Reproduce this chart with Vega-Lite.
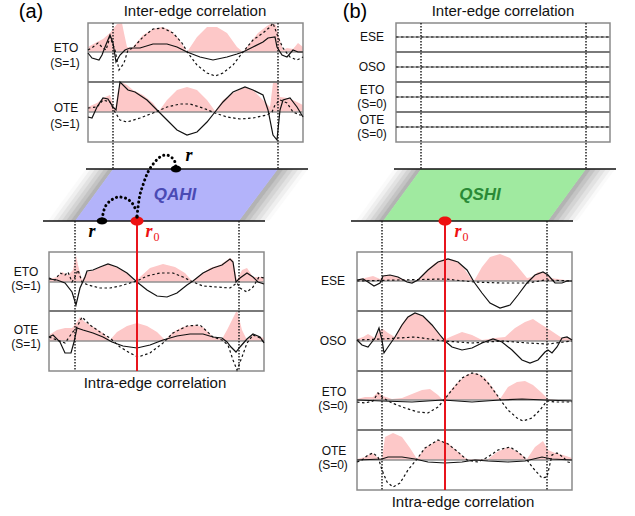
{
"$schema": "https://vega.github.io/schema/vega-lite/v6.json",
"width": 635, "height": 516, "padding": 0,
"autosize": {"type": "fit", "contains": "padding"},
"background": "white",
"config": {"view": {"stroke": null}},
"encoding": {
 "x": {"field": "x", "type": "quantitative", "scale": {"domain": [0, 635], "nice": false, "zero": false}, "axis": null},
 "y": {"field": "y", "type": "quantitative", "scale": {"domain": [0, 516], "reverse": true, "nice": false, "zero": false}, "axis": null}
},
"layer": [
 {"data": {"values": [
  {"g":"AL0","lv":0,"y":169,"x":86,"x2":91},{"g":"AL0","lv":0,"y":221,"x":48,"x2":53},
  {"g":"AL1","lv":1,"y":169,"x":90.5,"x2":95.5},{"g":"AL1","lv":1,"y":221,"x":52.5,"x2":57.5},
  {"g":"AL2","lv":2,"y":169,"x":95,"x2":100},{"g":"AL2","lv":2,"y":221,"x":57,"x2":62},
  {"g":"AL3","lv":3,"y":169,"x":99.5,"x2":104.5},{"g":"AL3","lv":3,"y":221,"x":61.5,"x2":66.5},
  {"g":"AL4","lv":4,"y":169,"x":104,"x2":109},{"g":"AL4","lv":4,"y":221,"x":66,"x2":71},
  {"g":"AL5","lv":5,"y":169,"x":108.5,"x2":113.5},{"g":"AL5","lv":5,"y":221,"x":70.5,"x2":75.5},
  {"g":"AR5","lv":0,"y":169,"x":303,"x2":308},{"g":"AR5","lv":0,"y":221,"x":264,"x2":269},
  {"g":"AR4","lv":1,"y":169,"x":298,"x2":303.5},{"g":"AR4","lv":1,"y":221,"x":259,"x2":264.5},
  {"g":"AR3","lv":2,"y":169,"x":293,"x2":298.5},{"g":"AR3","lv":2,"y":221,"x":254,"x2":259.5},
  {"g":"AR2","lv":3,"y":169,"x":288,"x2":293.5},{"g":"AR2","lv":3,"y":221,"x":249,"x2":254.5},
  {"g":"AR1","lv":4,"y":169,"x":283,"x2":288.5},{"g":"AR1","lv":4,"y":221,"x":244,"x2":249.5},
  {"g":"AR0","lv":5,"y":169,"x":277.5,"x2":283.5},{"g":"AR0","lv":5,"y":221,"x":238.5,"x2":244.5},
  {"g":"BL0","lv":0,"y":169,"x":394,"x2":399},{"g":"BL0","lv":0,"y":221,"x":356,"x2":361},
  {"g":"BL1","lv":1,"y":169,"x":398.5,"x2":403.5},{"g":"BL1","lv":1,"y":221,"x":360.5,"x2":365.5},
  {"g":"BL2","lv":2,"y":169,"x":403,"x2":408},{"g":"BL2","lv":2,"y":221,"x":365,"x2":370},
  {"g":"BL3","lv":3,"y":169,"x":407.5,"x2":412.5},{"g":"BL3","lv":3,"y":221,"x":369.5,"x2":374.5},
  {"g":"BL4","lv":4,"y":169,"x":412,"x2":417},{"g":"BL4","lv":4,"y":221,"x":374,"x2":379},
  {"g":"BL5","lv":5,"y":169,"x":416.5,"x2":421.5},{"g":"BL5","lv":5,"y":221,"x":378.5,"x2":383.5},
  {"g":"BR5","lv":0,"y":169,"x":610.5,"x2":615},{"g":"BR5","lv":0,"y":221,"x":572.5,"x2":577},
  {"g":"BR4","lv":1,"y":169,"x":605.5,"x2":611},{"g":"BR4","lv":1,"y":221,"x":567.5,"x2":573},
  {"g":"BR3","lv":2,"y":169,"x":600.5,"x2":606},{"g":"BR3","lv":2,"y":221,"x":562.5,"x2":568},
  {"g":"BR2","lv":3,"y":169,"x":595.5,"x2":601},{"g":"BR2","lv":3,"y":221,"x":557.5,"x2":563},
  {"g":"BR1","lv":4,"y":169,"x":590.5,"x2":596},{"g":"BR1","lv":4,"y":221,"x":552.5,"x2":558},
  {"g":"BR0","lv":5,"y":169,"x":585.5,"x2":591},{"g":"BR0","lv":5,"y":221,"x":547.5,"x2":553}
 ]},
  "mark": {"type": "area", "orient": "horizontal"},
  "encoding": {"x2": {"field": "x2"}, "detail": {"field": "g"},
   "fill": {"field": "lv", "type": "ordinal", "scale": {"domain": [0, 1, 2, 3, 4, 5], "range": ["#fafafa", "#efefef", "#e2e2e2", "#d4d4d4", "#c4c4c4", "#b3b3b3"]}, "legend": null}}},
 {"data": {"values": [{"y":169,"x":113,"x2":278},{"y":221,"x":75,"x2":239}]},
  "mark": {"type": "area", "orient": "horizontal", "fill": "#b3b3fa"},
  "encoding": {"x2": {"field": "x2"}}},
 {"data": {"values": [{"y":169,"x":421,"x2":586},{"y":221,"x":383,"x2":548}]},
  "mark": {"type": "area", "orient": "horizontal", "fill": "#a0eaa0"},
  "encoding": {"x2": {"field": "x2"}}},
 {"data": {"values": [
  {"s":"a1e","b":52,"x":88,"y":47},{"s":"a1e","b":52,"x":97,"y":42},{"s":"a1e","b":52,"x":103,"y":39},{"s":"a1e","b":52,"x":110,"y":33},{"s":"a1e","b":52,"x":117,"y":24},{"s":"a1e","b":52,"x":122,"y":23},{"s":"a1e","b":52,"x":124,"y":33},{"s":"a1e","b":52,"x":127,"y":47},{"s":"a1e","b":52,"x":132,"y":48},{"s":"a1e","b":52,"x":143,"y":35},{"s":"a1e","b":52,"x":153,"y":29},{"s":"a1e","b":52,"x":162,"y":27},{"s":"a1e","b":52,"x":170,"y":30},{"s":"a1e","b":52,"x":178,"y":38},{"s":"a1e","b":52,"x":187,"y":52},{"s":"a1e","b":52,"x":197,"y":37},{"s":"a1e","b":52,"x":207,"y":27},{"s":"a1e","b":52,"x":217,"y":27},{"s":"a1e","b":52,"x":227,"y":33},{"s":"a1e","b":52,"x":237,"y":47},{"s":"a1e","b":52,"x":243,"y":52},{"s":"a1e","b":52,"x":250,"y":43},{"s":"a1e","b":52,"x":258,"y":33},{"s":"a1e","b":52,"x":267,"y":26},{"s":"a1e","b":52,"x":272,"y":23},{"s":"a1e","b":52,"x":276,"y":25},{"s":"a1e","b":52,"x":279,"y":37},{"s":"a1e","b":52,"x":283,"y":50},{"s":"a1e","b":52,"x":287,"y":48},{"s":"a1e","b":52,"x":293,"y":49},{"s":"a1e","b":52,"x":298,"y":43},{"s":"a1e","b":52,"x":303,"y":47},
  {"s":"a1o","b":112,"x":88,"y":107},{"s":"a1o","b":112,"x":97,"y":103},{"s":"a1o","b":112,"x":103,"y":98},{"s":"a1o","b":112,"x":110,"y":95},{"s":"a1o","b":112,"x":115,"y":110},{"s":"a1o","b":112,"x":118,"y":90},{"s":"a1o","b":112,"x":121,"y":82},{"s":"a1o","b":112,"x":127,"y":85},{"s":"a1o","b":112,"x":133,"y":90},{"s":"a1o","b":112,"x":143,"y":95},{"s":"a1o","b":112,"x":153,"y":103},{"s":"a1o","b":112,"x":159,"y":111},{"s":"a1o","b":112,"x":167,"y":100},{"s":"a1o","b":112,"x":177,"y":90},{"s":"a1o","b":112,"x":187,"y":87},{"s":"a1o","b":112,"x":197,"y":90},{"s":"a1o","b":112,"x":207,"y":100},{"s":"a1o","b":112,"x":215,"y":111},{"s":"a1o","b":112,"x":223,"y":100},{"s":"a1o","b":112,"x":233,"y":93},{"s":"a1o","b":112,"x":245,"y":87},{"s":"a1o","b":112,"x":253,"y":90},{"s":"a1o","b":112,"x":263,"y":100},{"s":"a1o","b":112,"x":270,"y":107},{"s":"a1o","b":112,"x":273,"y":83},{"s":"a1o","b":112,"x":277,"y":83},{"s":"a1o","b":112,"x":280,"y":97},{"s":"a1o","b":112,"x":287,"y":98},{"s":"a1o","b":112,"x":293,"y":100},{"s":"a1o","b":112,"x":303,"y":105},
  {"s":"a2e","b":282,"x":49,"y":279},{"s":"a2e","b":282,"x":57,"y":277},{"s":"a2e","b":282,"x":62,"y":272},{"s":"a2e","b":282,"x":68,"y":275},{"s":"a2e","b":282,"x":73,"y":270},{"s":"a2e","b":282,"x":76,"y":255},{"s":"a2e","b":282,"x":78,"y":265},{"s":"a2e","b":282,"x":82,"y":280},{"s":"a2e","b":282,"x":87,"y":272},{"s":"a2e","b":282,"x":92,"y":271},{"s":"a2e","b":282,"x":100,"y":267},{"s":"a2e","b":282,"x":108,"y":264},{"s":"a2e","b":282,"x":117,"y":267},{"s":"a2e","b":282,"x":127,"y":273},{"s":"a2e","b":282,"x":135,"y":282},{"s":"a2e","b":282,"x":140,"y":277},{"s":"a2e","b":282,"x":150,"y":268},{"s":"a2e","b":282,"x":163,"y":264},{"s":"a2e","b":282,"x":175,"y":267},{"s":"a2e","b":282,"x":185,"y":273},{"s":"a2e","b":282,"x":192,"y":281},{"s":"a2e","b":282,"x":200,"y":275},{"s":"a2e","b":282,"x":210,"y":268},{"s":"a2e","b":282,"x":220,"y":265},{"s":"a2e","b":282,"x":230,"y":258},{"s":"a2e","b":282,"x":233,"y":260},{"s":"a2e","b":282,"x":237,"y":280},{"s":"a2e","b":282,"x":242,"y":270},{"s":"a2e","b":282,"x":247,"y":268},{"s":"a2e","b":282,"x":253,"y":277},{"s":"a2e","b":282,"x":264,"y":277},
  {"s":"a2o","b":341,"x":49,"y":335},{"s":"a2o","b":341,"x":57,"y":330},{"s":"a2o","b":341,"x":65,"y":328},{"s":"a2o","b":341,"x":72,"y":328},{"s":"a2o","b":341,"x":77,"y":322},{"s":"a2o","b":341,"x":80,"y":317},{"s":"a2o","b":341,"x":85,"y":322},{"s":"a2o","b":341,"x":95,"y":328},{"s":"a2o","b":341,"x":103,"y":333},{"s":"a2o","b":341,"x":110,"y":340},{"s":"a2o","b":341,"x":117,"y":332},{"s":"a2o","b":341,"x":127,"y":326},{"s":"a2o","b":341,"x":137,"y":323},{"s":"a2o","b":341,"x":147,"y":326},{"s":"a2o","b":341,"x":157,"y":332},{"s":"a2o","b":341,"x":165,"y":340},{"s":"a2o","b":341,"x":173,"y":332},{"s":"a2o","b":341,"x":183,"y":327},{"s":"a2o","b":341,"x":193,"y":325},{"s":"a2o","b":341,"x":203,"y":327},{"s":"a2o","b":341,"x":213,"y":337},{"s":"a2o","b":341,"x":222,"y":339},{"s":"a2o","b":341,"x":227,"y":330},{"s":"a2o","b":341,"x":233,"y":318},{"s":"a2o","b":341,"x":237,"y":310},{"s":"a2o","b":341,"x":242,"y":330},{"s":"a2o","b":341,"x":247,"y":340},{"s":"a2o","b":341,"x":253,"y":335},{"s":"a2o","b":341,"x":264,"y":338},
  {"s":"b2s","b":281,"x":357,"y":280},{"s":"b2s","b":281,"x":365,"y":278},{"s":"b2s","b":281,"x":373,"y":276},{"s":"b2s","b":281,"x":380,"y":279},{"s":"b2s","b":281,"x":385,"y":275},{"s":"b2s","b":281,"x":395,"y":276},{"s":"b2s","b":281,"x":403,"y":279},{"s":"b2s","b":281,"x":412,"y":282},{"s":"b2s","b":281,"x":418,"y":279},{"s":"b2s","b":281,"x":425,"y":272},{"s":"b2s","b":281,"x":435,"y":263},{"s":"b2s","b":281,"x":445,"y":259},{"s":"b2s","b":281,"x":455,"y":260},{"s":"b2s","b":281,"x":463,"y":267},{"s":"b2s","b":281,"x":470,"y":277},{"s":"b2s","b":281,"x":474,"y":281},{"s":"b2s","b":281,"x":482,"y":267},{"s":"b2s","b":281,"x":490,"y":257},{"s":"b2s","b":281,"x":500,"y":254},{"s":"b2s","b":281,"x":510,"y":258},{"s":"b2s","b":281,"x":518,"y":267},{"s":"b2s","b":281,"x":527,"y":278},{"s":"b2s","b":281,"x":532,"y":277},{"s":"b2s","b":281,"x":538,"y":272},{"s":"b2s","b":281,"x":545,"y":273},{"s":"b2s","b":281,"x":550,"y":278},{"s":"b2s","b":281,"x":558,"y":279},{"s":"b2s","b":281,"x":572,"y":281},
  {"s":"b2o","b":341,"x":357,"y":339},{"s":"b2o","b":341,"x":363,"y":337},{"s":"b2o","b":341,"x":368,"y":334},{"s":"b2o","b":341,"x":375,"y":338},{"s":"b2o","b":341,"x":380,"y":330},{"s":"b2o","b":341,"x":383,"y":329},{"s":"b2o","b":341,"x":388,"y":333},{"s":"b2o","b":341,"x":395,"y":337},{"s":"b2o","b":341,"x":400,"y":327},{"s":"b2o","b":341,"x":407,"y":317},{"s":"b2o","b":341,"x":415,"y":313},{"s":"b2o","b":341,"x":423,"y":316},{"s":"b2o","b":341,"x":432,"y":325},{"s":"b2o","b":341,"x":440,"y":335},{"s":"b2o","b":341,"x":444,"y":340},{"s":"b2o","b":341,"x":450,"y":337},{"s":"b2o","b":341,"x":462,"y":332},{"s":"b2o","b":341,"x":472,"y":335},{"s":"b2o","b":341,"x":482,"y":340},{"s":"b2o","b":341,"x":495,"y":338},{"s":"b2o","b":341,"x":505,"y":337},{"s":"b2o","b":341,"x":515,"y":328},{"s":"b2o","b":341,"x":525,"y":322},{"s":"b2o","b":341,"x":533,"y":319},{"s":"b2o","b":341,"x":542,"y":325},{"s":"b2o","b":341,"x":547,"y":328},{"s":"b2o","b":341,"x":553,"y":332},{"s":"b2o","b":341,"x":562,"y":338},{"s":"b2o","b":341,"x":567,"y":337},{"s":"b2o","b":341,"x":572,"y":339},
  {"s":"b2e","b":400,"x":357,"y":399},{"s":"b2e","b":400,"x":365,"y":397},{"s":"b2e","b":400,"x":373,"y":397},{"s":"b2e","b":400,"x":378,"y":392},{"s":"b2e","b":400,"x":383,"y":396},{"s":"b2e","b":400,"x":392,"y":399},{"s":"b2e","b":400,"x":402,"y":398},{"s":"b2e","b":400,"x":412,"y":394},{"s":"b2e","b":400,"x":422,"y":390},{"s":"b2e","b":400,"x":430,"y":389},{"s":"b2e","b":400,"x":438,"y":395},{"s":"b2e","b":400,"x":443,"y":400},{"s":"b2e","b":400,"x":448,"y":393},{"s":"b2e","b":400,"x":458,"y":382},{"s":"b2e","b":400,"x":468,"y":374},{"s":"b2e","b":400,"x":477,"y":373},{"s":"b2e","b":400,"x":485,"y":378},{"s":"b2e","b":400,"x":493,"y":388},{"s":"b2e","b":400,"x":500,"y":399},{"s":"b2e","b":400,"x":508,"y":387},{"s":"b2e","b":400,"x":517,"y":382},{"s":"b2e","b":400,"x":525,"y":381},{"s":"b2e","b":400,"x":533,"y":385},{"s":"b2e","b":400,"x":542,"y":393},{"s":"b2e","b":400,"x":548,"y":399},{"s":"b2e","b":400,"x":558,"y":400},{"s":"b2e","b":400,"x":572,"y":400},
  {"s":"b2t","b":460,"x":357,"y":459},{"s":"b2t","b":460,"x":365,"y":457},{"s":"b2t","b":460,"x":372,"y":453},{"s":"b2t","b":460,"x":377,"y":457},{"s":"b2t","b":460,"x":382,"y":459},{"s":"b2t","b":460,"x":385,"y":437},{"s":"b2t","b":460,"x":393,"y":433},{"s":"b2t","b":460,"x":402,"y":437},{"s":"b2t","b":460,"x":410,"y":448},{"s":"b2t","b":460,"x":417,"y":459},{"s":"b2t","b":460,"x":425,"y":448},{"s":"b2t","b":460,"x":438,"y":440},{"s":"b2t","b":460,"x":448,"y":443},{"s":"b2t","b":460,"x":458,"y":452},{"s":"b2t","b":460,"x":467,"y":459},{"s":"b2t","b":460,"x":488,"y":459},{"s":"b2t","b":460,"x":497,"y":452},{"s":"b2t","b":460,"x":508,"y":447},{"s":"b2t","b":460,"x":518,"y":452},{"s":"b2t","b":460,"x":527,"y":459},{"s":"b2t","b":460,"x":535,"y":447},{"s":"b2t","b":460,"x":543,"y":441},{"s":"b2t","b":460,"x":548,"y":450},{"s":"b2t","b":460,"x":555,"y":453},{"s":"b2t","b":460,"x":563,"y":455},{"s":"b2t","b":460,"x":572,"y":458}
 ]},
  "mark": {"type": "area", "fill": "#fdc8c8"},
  "encoding": {"y2": {"field": "b"}, "detail": {"field": "s"}}},
 {"data": {"values": [
  {"x":88,"y":23,"x2":303,"y2":142},{"x":49,"y":252,"x2":264,"y2":371},{"x":396,"y":23,"x2":610,"y2":142},{"x":357,"y":252,"x2":572,"y2":490}
 ]},
  "mark": {"type": "rect", "fillOpacity": 0, "stroke": "#8a8a8a", "strokeWidth": 1.5},
  "encoding": {"x2": {"field": "x2"}, "y2": {"field": "y2"}}},
 {"data": {"values": [
  {"x":88,"x2":303,"y":82},{"x":49,"x2":264,"y":311},
  {"x":396,"x2":610,"y":52},{"x":396,"x2":610,"y":82},{"x":396,"x2":610,"y":112},
  {"x":357,"x2":572,"y":311},{"x":357,"x2":572,"y":371},{"x":357,"x2":572,"y":430}
 ]},
  "mark": {"type": "rule", "color": "#7a7a7a", "strokeWidth": 1.8},
  "encoding": {"x2": {"field": "x2"}}},
 {"data": {"values": [
  {"x":88,"x2":303,"y":52},{"x":88,"x2":303,"y":112},{"x":49,"x2":264,"y":282},{"x":49,"x2":264,"y":341},
  {"x":396,"x2":610,"y":37},{"x":396,"x2":610,"y":67},{"x":396,"x2":610,"y":97},{"x":396,"x2":610,"y":127},
  {"x":357,"x2":572,"y":281},{"x":357,"x2":572,"y":341},{"x":357,"x2":572,"y":400},{"x":357,"x2":572,"y":460}
 ]},
  "mark": {"type": "rule", "color": "#909090", "strokeWidth": 1.5},
  "encoding": {"x2": {"field": "x2"}}},
 {"data": {"values": [
  {"x":86,"x2":308,"y":169},{"x":43,"x2":265,"y":221},{"x":394,"x2":616,"y":169},{"x":351,"x2":573,"y":221}
 ]},
  "mark": {"type": "rule", "color": "#111111", "strokeWidth": 1.5},
  "encoding": {"x2": {"field": "x2"}}},
 {"data": {"values": [
  {"x":113,"y":23,"y2":169},{"x":278,"y":23,"y2":169},{"x":75,"y":221,"y2":371},{"x":239,"y":221,"y2":371},
  {"x":421,"y":23,"y2":169},{"x":586,"y":23,"y2":169},{"x":382,"y":221,"y2":490},{"x":547,"y":221,"y2":490}
 ]},
  "mark": {"type": "rule", "color": "#222222", "strokeWidth": 1.5, "strokeDash": [1.5, 1.5]},
  "encoding": {"y2": {"field": "y2"}}},
 {"data": {"values": [
  {"s":"b1s","x":396,"y":37},{"s":"b1s","x":610,"y":37},{"s":"b1o","x":396,"y":67},{"s":"b1o","x":610,"y":67},
  {"s":"b1e","x":396,"y":97},{"s":"b1e","x":610,"y":97},{"s":"b1t","x":396,"y":127},{"s":"b1t","x":610,"y":127},
  {"s":"a1e","x":88,"y":50},{"s":"a1e","x":93,"y":47},{"s":"a1e","x":98,"y":43},{"s":"a1e","x":102,"y":47},{"s":"a1e","x":106,"y":50},{"s":"a1e","x":110,"y":37},{"s":"a1e","x":115,"y":50},{"s":"a1e","x":119,"y":70},{"s":"a1e","x":124,"y":63},{"s":"a1e","x":128,"y":50},{"s":"a1e","x":133,"y":48},{"s":"a1e","x":143,"y":37},{"s":"a1e","x":153,"y":29},{"s":"a1e","x":163,"y":28},{"s":"a1e","x":173,"y":33},{"s":"a1e","x":182,"y":43},{"s":"a1e","x":188,"y":53},{"s":"a1e","x":197,"y":65},{"s":"a1e","x":207,"y":73},{"s":"a1e","x":215,"y":76},{"s":"a1e","x":223,"y":73},{"s":"a1e","x":233,"y":65},{"s":"a1e","x":243,"y":52},{"s":"a1e","x":253,"y":40},{"s":"a1e","x":263,"y":33},{"s":"a1e","x":270,"y":27},{"s":"a1e","x":273,"y":23},{"s":"a1e","x":278,"y":37},{"s":"a1e","x":283,"y":48},{"s":"a1e","x":290,"y":57},{"s":"a1e","x":297,"y":60},{"s":"a1e","x":303,"y":57},
  {"s":"a1o","x":88,"y":108},{"s":"a1o","x":97,"y":107},{"s":"a1o","x":103,"y":100},{"s":"a1o","x":110,"y":102},{"s":"a1o","x":115,"y":112},{"s":"a1o","x":120,"y":120},{"s":"a1o","x":127,"y":122},{"s":"a1o","x":140,"y":118},{"s":"a1o","x":153,"y":113},{"s":"a1o","x":167,"y":107},{"s":"a1o","x":180,"y":104},{"s":"a1o","x":190,"y":104},{"s":"a1o","x":203,"y":108},{"s":"a1o","x":215,"y":113},{"s":"a1o","x":227,"y":117},{"s":"a1o","x":240,"y":119},{"s":"a1o","x":253,"y":118},{"s":"a1o","x":267,"y":115},{"s":"a1o","x":272,"y":112},{"s":"a1o","x":275,"y":105},{"s":"a1o","x":280,"y":100},{"s":"a1o","x":287,"y":103},{"s":"a1o","x":293,"y":112},{"s":"a1o","x":300,"y":115},{"s":"a1o","x":303,"y":115},
  {"s":"a2e","x":49,"y":278},{"s":"a2e","x":55,"y":280},{"s":"a2e","x":60,"y":273},{"s":"a2e","x":65,"y":275},{"s":"a2e","x":68,"y":272},{"s":"a2e","x":72,"y":282},{"s":"a2e","x":75,"y":277},{"s":"a2e","x":78,"y":270},{"s":"a2e","x":82,"y":282},{"s":"a2e","x":88,"y":285},{"s":"a2e","x":100,"y":288},{"s":"a2e","x":110,"y":288},{"s":"a2e","x":120,"y":286},{"s":"a2e","x":130,"y":283},{"s":"a2e","x":137,"y":281},{"s":"a2e","x":147,"y":276},{"s":"a2e","x":160,"y":273},{"s":"a2e","x":173,"y":273},{"s":"a2e","x":183,"y":277},{"s":"a2e","x":193,"y":282},{"s":"a2e","x":203,"y":286},{"s":"a2e","x":217,"y":287},{"s":"a2e","x":230,"y":288},{"s":"a2e","x":237,"y":283},{"s":"a2e","x":240,"y":288},{"s":"a2e","x":247,"y":292},{"s":"a2e","x":253,"y":287},{"s":"a2e","x":259,"y":277},{"s":"a2e","x":264,"y":278},
  {"s":"a2o","x":49,"y":337},{"s":"a2o","x":57,"y":340},{"s":"a2o","x":65,"y":343},{"s":"a2o","x":72,"y":333},{"s":"a2o","x":77,"y":327},{"s":"a2o","x":82,"y":317},{"s":"a2o","x":90,"y":325},{"s":"a2o","x":100,"y":332},{"s":"a2o","x":110,"y":338},{"s":"a2o","x":120,"y":347},{"s":"a2o","x":130,"y":353},{"s":"a2o","x":138,"y":357},{"s":"a2o","x":150,"y":353},{"s":"a2o","x":163,"y":343},{"s":"a2o","x":173,"y":333},{"s":"a2o","x":187,"y":326},{"s":"a2o","x":200,"y":325},{"s":"a2o","x":213,"y":337},{"s":"a2o","x":222,"y":340},{"s":"a2o","x":228,"y":345},{"s":"a2o","x":233,"y":360},{"s":"a2o","x":237,"y":370},{"s":"a2o","x":242,"y":357},{"s":"a2o","x":247,"y":343},{"s":"a2o","x":253,"y":335},{"s":"a2o","x":260,"y":338},{"s":"a2o","x":264,"y":342},
  {"s":"b2s","x":357,"y":281},{"s":"b2s","x":398,"y":280},{"s":"b2s","x":445,"y":279},{"s":"b2s","x":474,"y":282},{"s":"b2s","x":502,"y":283},{"s":"b2s","x":528,"y":283},{"s":"b2s","x":545,"y":280},{"s":"b2s","x":572,"y":281},
  {"s":"b2o","x":357,"y":340},{"s":"b2o","x":382,"y":339},{"s":"b2o","x":415,"y":337},{"s":"b2o","x":444,"y":341},{"s":"b2o","x":472,"y":343},{"s":"b2o","x":502,"y":341},{"s":"b2o","x":528,"y":343},{"s":"b2o","x":548,"y":344},{"s":"b2o","x":572,"y":341},
  {"s":"b2e","x":357,"y":402},{"s":"b2e","x":365,"y":403},{"s":"b2e","x":373,"y":401},{"s":"b2e","x":378,"y":393},{"s":"b2e","x":383,"y":398},{"s":"b2e","x":392,"y":403},{"s":"b2e","x":405,"y":408},{"s":"b2e","x":418,"y":412},{"s":"b2e","x":428,"y":413},{"s":"b2e","x":438,"y":407},{"s":"b2e","x":444,"y":400},{"s":"b2e","x":452,"y":390},{"s":"b2e","x":462,"y":378},{"s":"b2e","x":472,"y":373},{"s":"b2e","x":480,"y":375},{"s":"b2e","x":488,"y":383},{"s":"b2e","x":497,"y":395},{"s":"b2e","x":502,"y":402},{"s":"b2e","x":508,"y":410},{"s":"b2e","x":517,"y":418},{"s":"b2e","x":523,"y":421},{"s":"b2e","x":532,"y":418},{"s":"b2e","x":540,"y":410},{"s":"b2e","x":547,"y":401},{"s":"b2e","x":555,"y":402},{"s":"b2e","x":572,"y":402},
  {"s":"b2t","x":357,"y":462},{"s":"b2t","x":362,"y":460},{"s":"b2t","x":368,"y":455},{"s":"b2t","x":373,"y":453},{"s":"b2t","x":378,"y":457},{"s":"b2t","x":382,"y":470},{"s":"b2t","x":387,"y":482},{"s":"b2t","x":393,"y":487},{"s":"b2t","x":400,"y":483},{"s":"b2t","x":408,"y":470},{"s":"b2t","x":417,"y":459},{"s":"b2t","x":425,"y":448},{"s":"b2t","x":438,"y":440},{"s":"b2t","x":448,"y":444},{"s":"b2t","x":458,"y":452},{"s":"b2t","x":467,"y":460},{"s":"b2t","x":478,"y":462},{"s":"b2t","x":488,"y":457},{"s":"b2t","x":498,"y":450},{"s":"b2t","x":510,"y":447},{"s":"b2t","x":518,"y":452},{"s":"b2t","x":527,"y":460},{"s":"b2t","x":533,"y":468},{"s":"b2t","x":542,"y":478},{"s":"b2t","x":547,"y":477},{"s":"b2t","x":552,"y":455},{"s":"b2t","x":557,"y":453},{"s":"b2t","x":563,"y":457},{"s":"b2t","x":568,"y":462},{"s":"b2t","x":572,"y":463}
 ]},
  "mark": {"type": "line", "color": "#111111", "strokeWidth": 1.2, "strokeDash": [2.5, 2.5]},
  "encoding": {"detail": {"field": "s"}}},
 {"data": {"values": [
  {"s":"a1e","x":88,"y":53},{"s":"a1e","x":92,"y":58},{"s":"a1e","x":99,"y":60},{"s":"a1e","x":102,"y":55},{"s":"a1e","x":105,"y":47},{"s":"a1e","x":110,"y":35},{"s":"a1e","x":113,"y":43},{"s":"a1e","x":116,"y":62},{"s":"a1e","x":120,"y":55},{"s":"a1e","x":125,"y":50},{"s":"a1e","x":130,"y":48},{"s":"a1e","x":140,"y":48},{"s":"a1e","x":153,"y":44},{"s":"a1e","x":167,"y":44},{"s":"a1e","x":177,"y":47},{"s":"a1e","x":187,"y":52},{"s":"a1e","x":200,"y":57},{"s":"a1e","x":213,"y":60},{"s":"a1e","x":227,"y":57},{"s":"a1e","x":237,"y":54},{"s":"a1e","x":243,"y":52},{"s":"a1e","x":253,"y":47},{"s":"a1e","x":263,"y":42},{"s":"a1e","x":268,"y":38},{"s":"a1e","x":275,"y":37},{"s":"a1e","x":277,"y":47},{"s":"a1e","x":282,"y":55},{"s":"a1e","x":287,"y":57},{"s":"a1e","x":293,"y":50},{"s":"a1e","x":298,"y":52},{"s":"a1e","x":303,"y":52},
  {"s":"a1o","x":88,"y":117},{"s":"a1o","x":92,"y":118},{"s":"a1o","x":97,"y":107},{"s":"a1o","x":103,"y":98},{"s":"a1o","x":108,"y":99},{"s":"a1o","x":113,"y":107},{"s":"a1o","x":116,"y":110},{"s":"a1o","x":120,"y":82},{"s":"a1o","x":128,"y":90},{"s":"a1o","x":135,"y":92},{"s":"a1o","x":147,"y":100},{"s":"a1o","x":157,"y":110},{"s":"a1o","x":167,"y":120},{"s":"a1o","x":177,"y":130},{"s":"a1o","x":187,"y":135},{"s":"a1o","x":197,"y":132},{"s":"a1o","x":207,"y":122},{"s":"a1o","x":215,"y":112},{"s":"a1o","x":223,"y":102},{"s":"a1o","x":233,"y":92},{"s":"a1o","x":245,"y":87},{"s":"a1o","x":253,"y":90},{"s":"a1o","x":263,"y":95},{"s":"a1o","x":268,"y":110},{"s":"a1o","x":273,"y":135},{"s":"a1o","x":277,"y":140},{"s":"a1o","x":280,"y":110},{"s":"a1o","x":283,"y":100},{"s":"a1o","x":290,"y":98},{"s":"a1o","x":297,"y":107},{"s":"a1o","x":303,"y":117},
  {"s":"a2e","x":49,"y":279},{"s":"a2e","x":57,"y":280},{"s":"a2e","x":65,"y":283},{"s":"a2e","x":72,"y":292},{"s":"a2e","x":76,"y":305},{"s":"a2e","x":80,"y":288},{"s":"a2e","x":85,"y":277},{"s":"a2e","x":87,"y":271},{"s":"a2e","x":93,"y":270},{"s":"a2e","x":100,"y":267},{"s":"a2e","x":108,"y":264},{"s":"a2e","x":117,"y":267},{"s":"a2e","x":127,"y":273},{"s":"a2e","x":137,"y":282},{"s":"a2e","x":147,"y":290},{"s":"a2e","x":157,"y":296},{"s":"a2e","x":167,"y":297},{"s":"a2e","x":177,"y":293},{"s":"a2e","x":187,"y":285},{"s":"a2e","x":193,"y":281},{"s":"a2e","x":203,"y":273},{"s":"a2e","x":213,"y":268},{"s":"a2e","x":222,"y":265},{"s":"a2e","x":230,"y":259},{"s":"a2e","x":233,"y":262},{"s":"a2e","x":236,"y":282},{"s":"a2e","x":240,"y":278},{"s":"a2e","x":247,"y":273},{"s":"a2e","x":253,"y":277},{"s":"a2e","x":258,"y":282},{"s":"a2e","x":264,"y":284},
  {"s":"a2o","x":49,"y":337},{"s":"a2o","x":53,"y":335},{"s":"a2o","x":60,"y":342},{"s":"a2o","x":65,"y":353},{"s":"a2o","x":71,"y":353},{"s":"a2o","x":74,"y":342},{"s":"a2o","x":77,"y":328},{"s":"a2o","x":83,"y":330},{"s":"a2o","x":93,"y":333},{"s":"a2o","x":103,"y":337},{"s":"a2o","x":112,"y":342},{"s":"a2o","x":123,"y":346},{"s":"a2o","x":137,"y":348},{"s":"a2o","x":150,"y":345},{"s":"a2o","x":163,"y":340},{"s":"a2o","x":177,"y":336},{"s":"a2o","x":190,"y":334},{"s":"a2o","x":203,"y":334},{"s":"a2o","x":213,"y":337},{"s":"a2o","x":222,"y":338},{"s":"a2o","x":227,"y":342},{"s":"a2o","x":231,"y":347},{"s":"a2o","x":236,"y":352},{"s":"a2o","x":240,"y":347},{"s":"a2o","x":247,"y":339},{"s":"a2o","x":253,"y":334},{"s":"a2o","x":260,"y":337},{"s":"a2o","x":264,"y":343},
  {"s":"b2s","x":357,"y":280},{"s":"b2s","x":363,"y":279},{"s":"b2s","x":368,"y":282},{"s":"b2s","x":374,"y":286},{"s":"b2s","x":380,"y":283},{"s":"b2s","x":383,"y":276},{"s":"b2s","x":390,"y":275},{"s":"b2s","x":398,"y":277},{"s":"b2s","x":407,"y":282},{"s":"b2s","x":412,"y":283},{"s":"b2s","x":418,"y":280},{"s":"b2s","x":428,"y":270},{"s":"b2s","x":438,"y":262},{"s":"b2s","x":448,"y":259},{"s":"b2s","x":458,"y":262},{"s":"b2s","x":467,"y":270},{"s":"b2s","x":474,"y":282},{"s":"b2s","x":482,"y":293},{"s":"b2s","x":490,"y":303},{"s":"b2s","x":500,"y":308},{"s":"b2s","x":510,"y":305},{"s":"b2s","x":518,"y":295},{"s":"b2s","x":527,"y":283},{"s":"b2s","x":535,"y":275},{"s":"b2s","x":543,"y":272},{"s":"b2s","x":548,"y":275},{"s":"b2s","x":555,"y":283},{"s":"b2s","x":562,"y":283},{"s":"b2s","x":567,"y":281},{"s":"b2s","x":572,"y":281},
  {"s":"b2o","x":357,"y":340},{"s":"b2o","x":362,"y":345},{"s":"b2o","x":368,"y":347},{"s":"b2o","x":375,"y":338},{"s":"b2o","x":379,"y":328},{"s":"b2o","x":382,"y":340},{"s":"b2o","x":384,"y":353},{"s":"b2o","x":388,"y":347},{"s":"b2o","x":395,"y":337},{"s":"b2o","x":402,"y":325},{"s":"b2o","x":408,"y":317},{"s":"b2o","x":415,"y":313},{"s":"b2o","x":423,"y":316},{"s":"b2o","x":432,"y":325},{"s":"b2o","x":440,"y":335},{"s":"b2o","x":445,"y":341},{"s":"b2o","x":452,"y":347},{"s":"b2o","x":462,"y":350},{"s":"b2o","x":472,"y":348},{"s":"b2o","x":482,"y":343},{"s":"b2o","x":493,"y":339},{"s":"b2o","x":502,"y":342},{"s":"b2o","x":512,"y":350},{"s":"b2o","x":522,"y":360},{"s":"b2o","x":530,"y":363},{"s":"b2o","x":538,"y":360},{"s":"b2o","x":545,"y":352},{"s":"b2o","x":548,"y":350},{"s":"b2o","x":552,"y":353},{"s":"b2o","x":557,"y":347},{"s":"b2o","x":562,"y":338},{"s":"b2o","x":567,"y":337},{"s":"b2o","x":572,"y":340},
  {"s":"b2e","x":357,"y":400},{"s":"b2e","x":382,"y":401},{"s":"b2e","x":412,"y":402},{"s":"b2e","x":443,"y":400},{"s":"b2e","x":472,"y":402},{"s":"b2e","x":500,"y":400},{"s":"b2e","x":522,"y":399},{"s":"b2e","x":545,"y":400},{"s":"b2e","x":572,"y":401},
  {"s":"b2t","x":357,"y":460},{"s":"b2t","x":382,"y":459},{"s":"b2t","x":388,"y":457},{"s":"b2t","x":402,"y":457},{"s":"b2t","x":415,"y":459},{"s":"b2t","x":428,"y":462},{"s":"b2t","x":445,"y":463},{"s":"b2t","x":462,"y":462},{"s":"b2t","x":475,"y":460},{"s":"b2t","x":488,"y":461},{"s":"b2t","x":508,"y":462},{"s":"b2t","x":525,"y":461},{"s":"b2t","x":542,"y":457},{"s":"b2t","x":552,"y":459},{"s":"b2t","x":572,"y":460}
 ]},
  "mark": {"type": "line", "color": "#111111", "strokeWidth": 1.2},
  "encoding": {"detail": {"field": "s"}}},
 {"data": {"values": [{"x":137,"y":221,"y2":371},{"x":445,"y":221,"y2":490}]},
  "mark": {"type": "rule", "color": "#e8141c", "strokeWidth": 2},
  "encoding": {"y2": {"field": "y2"}}},
 {"data": {"values": [
  {"s":"big","x":137,"y":216},{"s":"big","x":139,"y":200},{"s":"big","x":143,"y":185},{"s":"big","x":148,"y":172},{"s":"big","x":154,"y":163},{"s":"big","x":160,"y":157},{"s":"big","x":166,"y":155},{"s":"big","x":171,"y":157},{"s":"big","x":175,"y":162},{"s":"big","x":176,"y":168},
  {"s":"small","x":102,"y":219},{"s":"small","x":104,"y":210},{"s":"small","x":108,"y":203},{"s":"small","x":113,"y":199},{"s":"small","x":119,"y":197},{"s":"small","x":125,"y":198},{"s":"small","x":130,"y":201},{"s":"small","x":134,"y":206},{"s":"small","x":136.5,"y":212}
 ]},
  "mark": {"type": "line", "color": "#000000", "strokeWidth": 3, "strokeDash": [0.1, 4.5], "strokeCap": "round", "interpolate": "monotone"},
  "encoding": {"detail": {"field": "s"}}},
 {"data": {"values": [{"x":137,"y":221},{"x":445,"y":221}]},
  "mark": {"type": "point", "filled": true, "opacity": 1, "color": "#ee1111", "size": 169, "shape": "M-1,0A1,0.7,0,1,0,1,0A1,0.7,0,1,0,-1,0Z"}},
 {"data": {"values": [{"x":102,"y":221},{"x":176,"y":169}]},
  "mark": {"type": "point", "filled": true, "opacity": 1, "color": "#000000", "size": 110, "shape": "M-1,0A1,0.65,0,1,0,1,0A1,0.65,0,1,0,-1,0Z"}},
 {"data": {"values": [{"x":137,"y":217}]},
  "mark": {"type": "point", "filled": true, "opacity": 1, "color": "#000000", "size": 12, "shape": "circle"}},
 {"data": {"values": [{"x":31,"y":12,"t":"(a)"},{"x":355,"y":12,"t":"(b)"}]},
  "mark": {"type": "text", "font": "Liberation Sans", "fontSize": 20, "align": "center", "baseline": "middle", "color": "#000000"},
  "encoding": {"text": {"field": "t"}}},
 {"data": {"values": [
  {"x":195,"y":11,"t":"Inter-edge correlation"},{"x":503,"y":11,"t":"Inter-edge correlation"},
  {"x":155,"y":383,"t":"Intra-edge correlation"},{"x":463,"y":502,"t":"Intra-edge correlation"}
 ]},
  "mark": {"type": "text", "font": "Liberation Sans", "fontSize": 15, "align": "center", "baseline": "middle", "color": "#111111"},
  "encoding": {"text": {"field": "t"}}},
 {"data": {"values": [
  {"x":66,"y":48,"t":"ETO"},{"x":65,"y":63,"t":"(S=1)"},{"x":66,"y":108,"t":"OTE"},{"x":65,"y":124,"t":"(S=1)"},
  {"x":26,"y":272,"t":"ETO"},{"x":26,"y":286,"t":"(S=1)"},{"x":26,"y":330,"t":"OTE"},{"x":26,"y":344,"t":"(S=1)"},
  {"x":372,"y":37,"t":"ESE"},{"x":372,"y":67,"t":"OSO"},{"x":372,"y":90,"t":"ETO"},{"x":372,"y":104,"t":"(S=0)"},{"x":372,"y":120,"t":"OTE"},{"x":372,"y":134,"t":"(S=0)"},
  {"x":333,"y":281,"t":"ESE"},{"x":333,"y":341,"t":"OSO"},{"x":334,"y":392,"t":"ETO"},{"x":333,"y":406,"t":"(S=0)"},{"x":334,"y":451,"t":"OTE"},{"x":333,"y":465,"t":"(S=0)"}
 ]},
  "mark": {"type": "text", "font": "Liberation Sans", "fontSize": 12, "align": "center", "baseline": "middle", "color": "#111111"},
  "encoding": {"text": {"field": "t"}}},
 {"data": {"values": [{"x":175,"y":195,"t":"QAHI"}]},
  "mark": {"type": "text", "font": "Liberation Sans", "fontSize": 17, "fontStyle": "italic", "fontWeight": "bold", "align": "center", "baseline": "middle", "color": "#4a4ab4"},
  "encoding": {"text": {"field": "t"}}},
 {"data": {"values": [{"x":480,"y":195,"t":"QSHI"}]},
  "mark": {"type": "text", "font": "Liberation Sans", "fontSize": 17, "fontStyle": "italic", "fontWeight": "bold", "align": "center", "baseline": "middle", "color": "#2a8a36"},
  "encoding": {"text": {"field": "t"}}},
 {"data": {"values": [{"x":92,"y":232,"t":"r"},{"x":189,"y":156,"t":"r"}]},
  "mark": {"type": "text", "font": "Liberation Serif", "fontSize": 18, "fontStyle": "italic", "fontWeight": "bold", "align": "center", "baseline": "middle", "color": "#000000"},
  "encoding": {"text": {"field": "t"}}},
 {"data": {"values": [{"x":149,"y":232,"t":"r"},{"x":458,"y":232,"t":"r"}]},
  "mark": {"type": "text", "font": "Liberation Serif", "fontSize": 18, "fontStyle": "italic", "fontWeight": "bold", "align": "center", "baseline": "middle", "color": "#ee1111"},
  "encoding": {"text": {"field": "t"}}},
 {"data": {"values": [{"x":156.5,"y":237,"t":"0"},{"x":465.5,"y":237,"t":"0"}]},
  "mark": {"type": "text", "font": "Liberation Serif", "fontSize": 12, "align": "center", "baseline": "middle", "color": "#ee1111"},
  "encoding": {"text": {"field": "t"}}}
]
}
